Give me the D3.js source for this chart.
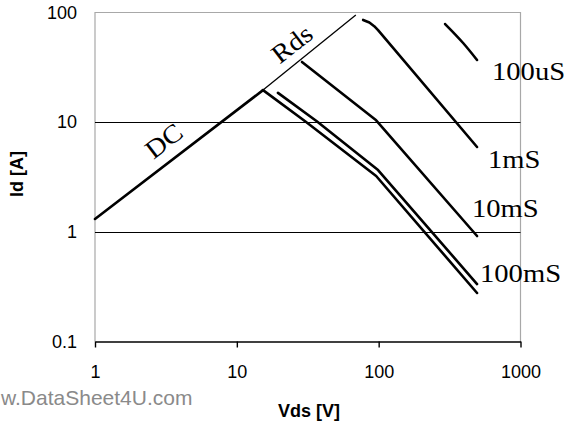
<!DOCTYPE html>
<html>
<head>
<meta charset="utf-8">
<script src="https://cdn.jsdelivr.net/npm/d3@7"></script>
<style>
  html, body { margin: 0; padding: 0; background: #fff; }
  svg { display: block; }
</style>
</head>
<body>
<svg id="chart" width="569" height="423"></svg>
<script>
// ---- data ----
const xTicks = [1, 10, 100, 1000];
const xTickLabels = ["1", "10", "100", "1000"];
const yTicks = [0.1, 1, 10, 100];
const yTickLabels = ["0.1", "1", "10", "100"];
const gridValues = [1, 10];

const dcLine = [[1, 1.31], [15.3, 19.6]];
const rdsLine = [[15.3, 19.6], [69, 95]];
const curve100mSUpper = [[19.5, 18.5], [36.6, 10.2], [99, 3.66], [494, 0.334]];
const curve100mSLower = [[15.3, 19.6], [30.3, 10.2], [96, 3.23], [494, 0.277]];
const curve10mS = [[28.8, 35.4], [96, 10.4], [494, 0.916]];
const curve1mS = [[77.7, 85.5], [86, 81], [93, 75], [99, 69], [494, 5.94]];
const curve100uS = [[294, 78.5], [394, 52.7], [494, 36.9]];

const curveLabels = ["100uS", "1mS", "10mS", "100mS"];
const lineLabels = ["DC", "Rds"];
const xTitle = "Vds [V]";
const yTitle = "Id [A]";
const watermark = "w.DataSheet4U.com";

// ---- layout ----
const svg = d3.select("#chart");
const x = d3.scaleLog().domain([1, 1000]).range([95, 520.5]);
const y = d3.scaleLog().domain([0.1, 100]).range([341.5, 12.5]);
const frameColor = "#a8a8a8";

// frame (grey) left, top, right
svg.append("path")
  .attr("d", `M${x(1)},${y(0.1)}V${y(100)}H${x(1000)}V${y(0.1)}`)
  .attr("fill", "none").attr("stroke", frameColor).attr("stroke-width", 1.2);

// gridlines
svg.selectAll("line.grid").data(gridValues).enter().append("line")
  .attr("class", "grid")
  .attr("x1", x(1)).attr("x2", x(1000))
  .attr("y1", d => Math.round(y(d)) + 0.5).attr("y2", d => Math.round(y(d)) + 0.5)
  .attr("stroke", "#000").attr("stroke-width", 1.2);

// bottom axis
const xAxis = d3.axisBottom(x).tickValues(xTicks)
  .tickFormat((d, i) => xTickLabels[i]).tickSizeInner(6).tickSizeOuter(0).tickPadding(18);
const gx = svg.append("g").attr("transform", `translate(0,${y(0.1)})`).call(xAxis);
gx.select(".domain").attr("stroke", "#000").attr("stroke-width", 1.4);
gx.selectAll(".tick line").attr("stroke", "#000").attr("stroke-width", 1.4);
gx.selectAll(".tick text")
  .attr("font-family", "Liberation Sans, Arial, sans-serif")
  .attr("font-size", 18).attr("fill", "#000");

// left axis labels (no ticks)
const yAxis = d3.axisLeft(y).tickValues(yTicks)
  .tickFormat((d, i) => yTickLabels[i]).tickSize(0).tickPadding(18);
const gy = svg.append("g").attr("transform", `translate(${x(1)},0)`).call(yAxis);
gy.select(".domain").remove();
gy.selectAll(".tick text")
  .attr("font-family", "Liberation Sans, Arial, sans-serif")
  .attr("font-size", 18).attr("fill", "#000");

// curves
const line = d3.line().x(d => x(d[0])).y(d => y(d[1]));
const lineSmooth = d3.line().x(d => x(d[0])).y(d => y(d[1])).curve(d3.curveMonotoneX);
const thick = [curve100mSUpper, curve100mSLower, curve10mS, dcLine, curve1mS];
svg.selectAll("path.curve").data(thick).enter().append("path")
  .attr("class", "curve")
  .attr("d", line)
  .attr("fill", "none").attr("stroke", "#000").attr("stroke-width", 2.6)
  .attr("stroke-linecap", "round").attr("stroke-linejoin", "round");
svg.selectAll("path.smooth").data([curve100uS]).enter().append("path")
  .attr("class", "smooth")
  .attr("d", lineSmooth)
  .attr("fill", "none").attr("stroke", "#000").attr("stroke-width", 2.6)
  .attr("stroke-linecap", "round").attr("stroke-linejoin", "round");
svg.append("path").attr("d", line(rdsLine))
  .attr("fill", "none").attr("stroke", "#000").attr("stroke-width", 1.3);

// curve labels (serif)
const serif = "Liberation Serif, Times New Roman, serif";
const labelPos = [[492, 80], [488, 168], [472, 217], [480, 282]];
curveLabels.forEach((t, i) => {
  svg.append("text")
    .attr("transform", `translate(${labelPos[i][0]},${labelPos[i][1]}) scale(1.1,1)`)
    .attr("font-family", serif).attr("font-size", 26).attr("fill", "#000")
    .text(t);
});
const angle = -Math.atan((y(1) - y(10)) / (x(10) - x(1))) * 180 / Math.PI;
const lineLabelPos = [[164, 141], [292, 44]];
lineLabels.forEach((t, i) => {
  svg.append("text")
    .attr("transform", `translate(${lineLabelPos[i][0]},${lineLabelPos[i][1]}) rotate(${angle}) scale(1.1,1)`)
    .attr("text-anchor", "middle").attr("dominant-baseline", "central")
    .attr("font-family", serif).attr("font-size", 26).attr("fill", "#000")
    .text(t);
});

// axis titles
svg.append("text")
  .attr("x", 309).attr("y", 417)
  .attr("text-anchor", "middle")
  .attr("font-family", "Liberation Sans, Arial, sans-serif")
  .attr("font-weight", "bold").attr("font-size", 18).attr("fill", "#000")
  .text(xTitle);
svg.append("text")
  .attr("transform", "translate(23,174) rotate(-90)")
  .attr("text-anchor", "middle")
  .attr("font-family", "Liberation Sans, Arial, sans-serif")
  .attr("font-weight", "bold").attr("font-size", 18).attr("fill", "#000")
  .text(yTitle);

// watermark
svg.append("text")
  .attr("x", 1).attr("y", 405)
  .attr("text-anchor", "start")
  .attr("font-family", "Liberation Sans, Arial, sans-serif")
  .attr("font-size", 21).attr("fill", "#8a8a8a")
  .text(watermark);
</script>
</body>
</html>
